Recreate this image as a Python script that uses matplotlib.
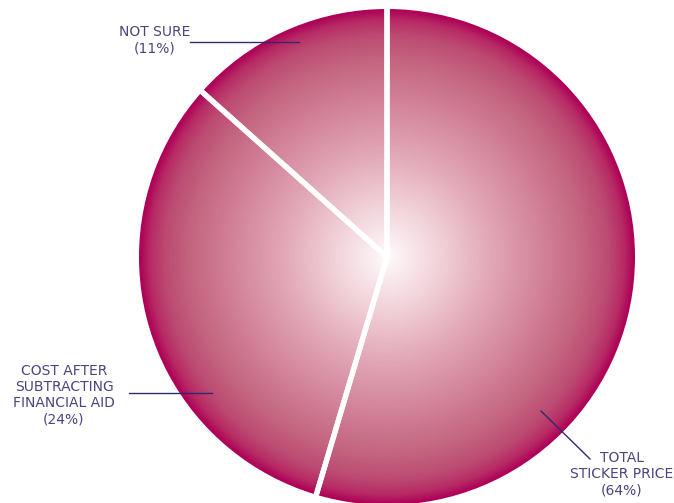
import numpy as np
import matplotlib.pyplot as plt
from matplotlib.colors import LinearSegmentedColormap
from matplotlib.patches import Circle

# datos (tamanos medidos en el dibujo, etiquetas como en la imagen)
categorias = ["TOTAL\nSTICKER PRICE", "COST AFTER\nSUBTRACTING\nFINANCIAL AID", "NOT SURE"]
porcentajes = ["(64%)", "(24%)", "(11%)"]
tamanos = [54.6, 32.0, 13.4]

W, H = 674, 503
cx, cy, R = 387, 257, 248

def p2d(x, y):
    # pixel -> coordenadas de datos
    return (x - cx) / R, (cy - y) / R

fig = plt.figure(figsize=(W / 100, H / 100), dpi=100)
ax = fig.add_axes([0, 0, 1, 1])

# separadores blancos (el borde exterior queda fuera del circulo)
wedges, _ = ax.pie(tamanos, startangle=90, counterclock=False, radius=1 + 4 / R,
                   wedgeprops=dict(facecolor="none", edgecolor="white", linewidth=3.8))
for w in wedges:
    w.set_zorder(3)

# gradiente radial
cmap = LinearSegmentedColormap.from_list("rad", [
    (0.0, "#FFFAFA"), (0.2, "#F2D4DB"), (0.4, "#E3ABBA"), (0.6, "#D4879D"),
    (0.8, "#C4647F"), (0.9, "#BC4A72"), (0.96, "#B72A64"), (1.0, "#AE0058")])
n = 600
g = np.linspace(-1, 1, n)
xx, yy = np.meshgrid(g, g)
rr = np.clip(np.sqrt(xx**2 + yy**2), 0, 1)
im = ax.imshow(rr, cmap=cmap, vmin=0, vmax=1, extent=(-1, 1, -1, 1),
               origin="lower", interpolation="bilinear", zorder=1)
circ = Circle((0, 0), 1, transform=ax.transData)
im.set_clip_path(circ)

# etiquetas
txtcol = "#4A4480"
linecol = "#2E2A6E"
kw = dict(color=txtcol, fontsize=10, ha="center", va="center", linespacing=1.2)

x, y = p2d(155, 40)
ax.text(x, y, categorias[2] + "\n" + porcentajes[2], **kw)
a, b = p2d(190, 42), p2d(299, 42)
ax.plot([a[0], b[0]], [a[1], b[1]], color=linecol, lw=1, zorder=4)

x, y = p2d(64, 395)
ax.text(x, y, categorias[1] + "\n" + porcentajes[1], **kw)
a, b = p2d(129, 393), p2d(212, 393)
ax.plot([a[0], b[0]], [a[1], b[1]], color=linecol, lw=1, zorder=4)

x, y = p2d(622, 474)
ax.text(x, y, categorias[0] + "\n" + porcentajes[0], **kw)
a, b = p2d(541, 411), p2d(590, 459)
ax.plot([a[0], b[0]], [a[1], b[1]], color=linecol, lw=1, zorder=4)

x0, y0 = p2d(0, H)
x1, y1 = p2d(W, 0)
ax.set_xlim(x0, x1)
ax.set_ylim(y0, y1)
ax.set_aspect("auto")
ax.axis("off")

plt.savefig("out.png", dpi=100)
